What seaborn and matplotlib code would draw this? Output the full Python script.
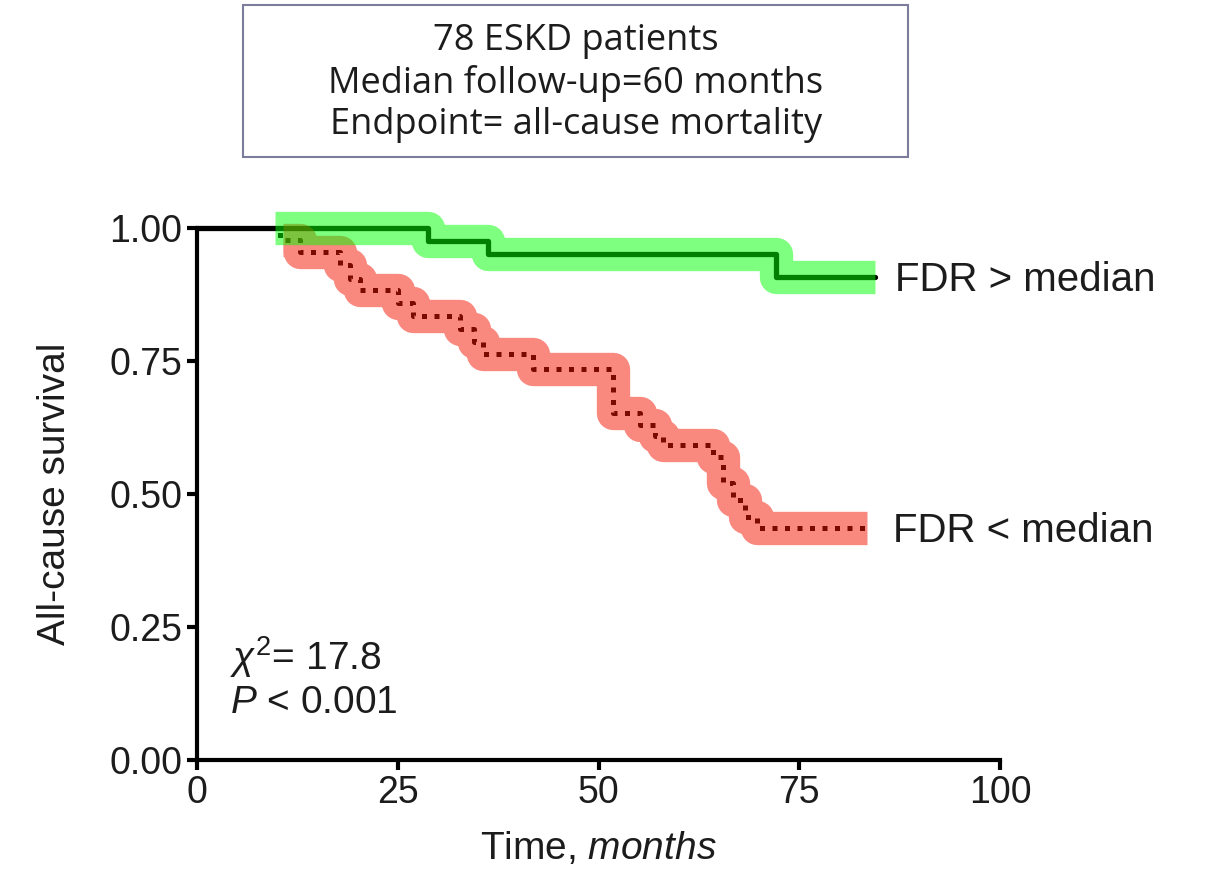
import matplotlib
matplotlib.use("Agg")
import matplotlib.pyplot as plt
import matplotlib.patches as patches
import seaborn as sns

sns.set_style("ticks")
plt.rcParams["font.family"] = ["Liberation Sans", "DejaVu Sans"]
plt.rcParams["mathtext.fontset"] = "custom"
plt.rcParams["mathtext.rm"] = "Liberation Sans"
plt.rcParams["mathtext.it"] = "Liberation Sans:italic"

# Kaplan-Meier steps (time in months, survival)
high_t = [0, 28.8, 36.2, 72.1, 84.4]
high_s = [1.0, 0.976, 0.951, 0.908, 0.908]

low_t = [0, 10.3, 12.8, 17.8, 19.0, 20.3, 25.0, 26.9, 32.8, 34.5, 35.6, 41.8,
         51.8, 55.2, 57.0, 58.0, 64.3, 65.5, 66.7, 68.3, 69.7, 70.1, 83.4]
low_s = [1.0, 0.977, 0.955, 0.930, 0.905, 0.883, 0.860, 0.835, 0.810, 0.785, 0.763, 0.735,
         0.652, 0.630, 0.610, 0.592, 0.570, 0.520, 0.489, 0.457, 0.436, 0.436, 0.436]

# where the hand-drawn highlight bands start
high_band_start = 9.7
low_band_start = 10.7

group_labels = ["FDR > median", "FDR < median"]
header_lines = ["78 ESKD patients", "Median follow-up=60 months", "Endpoint= all-cause mortality"]

txt = "#1c1c1c"


def band(ts, ss, start):
    bt, bs = [start], [ss[0]]
    for t, s in zip(ts, ss):
        if t <= start:
            bs[0] = s
        else:
            bt.append(t)
            bs.append(s)
    return bt, bs


fig = plt.figure(figsize=(12.05, 8.74), dpi=100)
ax = fig.add_axes([0.1635, 0.1304, 0.6664, 0.6087])

sns.lineplot(x=low_t, y=low_s, estimator=None, sort=False, drawstyle="steps-post",
             color="black", lw=3.6, linestyle=(0, (1, 1.5)), ax=ax, clip_on=False)
sns.lineplot(x=high_t, y=high_s, estimator=None, sort=False, drawstyle="steps-post",
             color="black", lw=3.8, ax=ax, clip_on=False)

bt, bs = band(low_t, low_s, low_band_start)
sns.lineplot(x=bt, y=bs, estimator=None, sort=False, drawstyle="steps-post",
             color="#f51400", alpha=0.5, lw=24, solid_capstyle="butt",
             solid_joinstyle="round", ax=ax, clip_on=False)
bt, bs = band(high_t, high_s, high_band_start)
sns.lineplot(x=bt, y=bs, estimator=None, sort=False, drawstyle="steps-post",
             color="#00ff00", alpha=0.5, lw=24, solid_capstyle="butt",
             solid_joinstyle="round", ax=ax, clip_on=False)

ax.set_xlim(0, 100)
ax.set_ylim(0, 1)
ax.set_xticks([0, 25, 50, 75, 100])
ax.set_yticks([0, 0.25, 0.5, 0.75, 1.0])
ax.set_yticklabels(["0.00", "0.25", "0.50", "0.75", "1.00"])
ax.tick_params(labelsize=27, width=3, length=7, colors="black", labelcolor=txt)
for side in ["left", "bottom"]:
    ax.spines[side].set_linewidth(3)
    ax.spines[side].set_color("black")
sns.despine(ax=ax)

ax.set_xlabel("Time, $\\it{months}$", fontsize=28, color=txt, labelpad=14)
ax.set_ylabel("All-cause survival", fontsize=28, color=txt, labelpad=26)

ax.text(86.9, 0.902, group_labels[0], fontsize=29, va="center", color=txt)
ax.text(86.7, 0.430, group_labels[1], fontsize=29, va="center", color=txt)
ax.text(4.1, 0.194, "$\\chi^2$= 17.8", fontsize=28, va="center", color=txt)
ax.text(4.1, 0.107, "$\\it{P}$ < 0.001", fontsize=28, va="center", color=txt)

fig.patches.append(patches.Rectangle((0.2017, 0.820), 0.552, 0.174, transform=fig.transFigure,
                                     fill=False, edgecolor="#7c7c9c", linewidth=1.5))
fig.text(0.4777, 0.905, "\n".join(header_lines), ha="center", va="center",
         fontsize=26, family=["Open Sans", "DejaVu Sans"], color=txt, linespacing=1.2)

fig.savefig("out.png", dpi=100)
